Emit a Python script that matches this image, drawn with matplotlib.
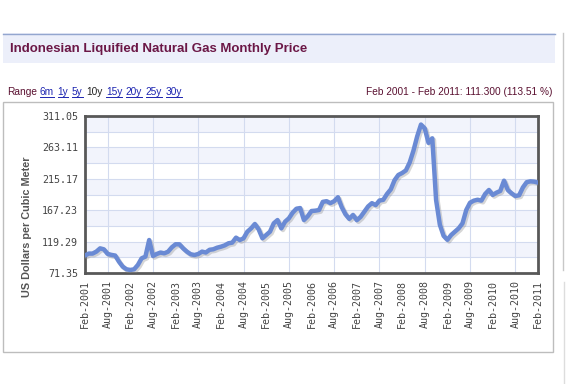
import numpy as np
import matplotlib
matplotlib.use("Agg")
import matplotlib.pyplot as plt
import matplotlib.patheffects as pe
from matplotlib.lines import Line2D
from matplotlib.patches import Rectangle

# monthly price, Feb 2001 .. Feb 2011 (USD per cubic meter)
price = [98.05, 101, 101, 104, 109, 107.5, 100.5, 99, 98, 88.6, 81, 77,
         76, 77, 83.6, 93.8, 96.3, 121.7, 97.3, 100.4, 102.6, 101.4, 103.9, 110.6,
         115.2, 115.2, 109, 103.9, 100, 98.8, 100.4, 104, 102.6, 106.8, 107.6, 110,
         111.5, 113.5, 116.7, 117.7, 125.3, 121.7, 124.3, 134.4, 139.5, 146.2, 138, 124.3,
         129.4, 134.4, 147.2, 152.2, 139.5, 149.7, 154.8, 163.4, 169.5, 170.5, 152.2, 158,
         166, 166.5, 167.5, 180, 181, 178, 181, 187, 172, 161, 154, 160,
         152, 157, 165, 173, 178, 175, 182, 183, 192, 199, 213, 221,
         224, 228, 240, 258, 280, 298, 292, 270, 277, 183, 145, 128,
         122, 129.4, 134.5, 139.6, 147.2, 167.6, 178.7, 181.8, 183.2, 181.8, 192, 198.1,
         190.5, 194, 196.6, 212.3, 198.1, 193, 188.9, 190, 202, 210, 211.3, 210.8,
         209.35]
months = np.arange(len(price))

x_labels = ["Feb-2001", "Aug-2001", "Feb-2002", "Aug-2002", "Feb-2003", "Aug-2003",
            "Feb-2004", "Aug-2004", "Feb-2005", "Aug-2005", "Feb-2006", "Aug-2006",
            "Feb-2007", "Aug-2007", "Feb-2008", "Aug-2008", "Feb-2009", "Aug-2009",
            "Feb-2010", "Aug-2010", "Feb-2011"]
y_ticks = [71.35, 119.29, 167.23, 215.17, 263.11, 311.05]

title = "Indonesian Liquified Natural Gas Monthly Price"
ranges = ["6m", "1y", "5y", "10y", "15y", "20y", "25y", "30y"]
summary = "Feb 2001 - Feb 2011: 111.300 (113.51 %)"

W, H = 567, 384
fig = plt.figure(figsize=(W / 100, H / 100), dpi=100)
fig.patch.set_facecolor("white")

def fx(px):
    return px / W

def fy(py):
    return 1 - py / H

# header band
fig.patches.append(Rectangle((fx(3), fy(63)), fx(552), 30 / H, transform=fig.transFigure,
                             facecolor="#eceffa", edgecolor="none"))
fig.lines.append(Line2D([fx(3), fx(555)], [fy(33.5), fy(33.5)], transform=fig.transFigure,
                        color="#93a6cf", lw=1))
fig.text(fx(10), fy(49), title, fontsize=9.5, fontweight="bold", color="#6b1746",
         family="Liberation Sans", va="center", ha="left")

# range row
fig.canvas.draw()
r = fig.canvas.get_renderer()
t = fig.text(fx(7), fy(92), "Range", fontsize=7.3, color="#5a1030",
             family="Liberation Sans", va="center")
xpos = t.get_window_extent(r).x1 + 3
for lab in ranges:
    col = "#222222" if lab == "10y" else "#1c24b0"
    tt = fig.text(xpos / W, fy(92), lab, fontsize=7.3, color=col,
                  family="Liberation Sans", va="center")
    bb = tt.get_window_extent(r)
    if lab != "10y":
        fig.lines.append(Line2D([bb.x0 / W, bb.x1 / W], [fy(97), fy(97)],
                                transform=fig.transFigure, color=col, lw=0.7))
    xpos = bb.x1 + 3.5
fig.text(fx(552), fy(92), summary, fontsize=7.3, color="#5a1030",
         family="Liberation Sans", va="center", ha="right")

# chart box and neighbouring edge
fig.patches.append(Rectangle((fx(3), fy(352)), fx(550), 250 / H, transform=fig.transFigure,
                             facecolor="none", edgecolor="#bdbdbd", lw=1))
fig.lines.append(Line2D([fx(563), fx(563)], [fy(33), fy(270)], transform=fig.transFigure,
                        color="#c8c8c8", lw=1))
fig.lines.append(Line2D([fx(564), fx(564)], [fy(282), fy(384)], transform=fig.transFigure,
                        color="#dddddd", lw=1))

ax = fig.add_axes([fx(85), fy(273), fx(453), 157 / H])
ymin, ymax = y_ticks[0], y_ticks[-1]
step = (y_ticks[1] - y_ticks[0]) / 2
for k in range(10):
    if k % 2 == 1:
        ax.axhspan(ymin + k * step, ymin + (k + 1) * step, color="#f2f4fc", lw=0, zorder=0)
for k in range(1, 10):
    ax.axhline(ymin + k * step, color="#d3dbef", lw=0.8, zorder=1)
for k in range(1, len(x_labels) - 1, 2):
    ax.axvline(k * 6, color="#d3dbef", lw=0.8, zorder=1)

ax.plot(months, price, color="#6a8ad4", lw=3.2, solid_capstyle="round",
        solid_joinstyle="round", zorder=3,
        path_effects=[pe.SimpleLineShadow(offset=(1.2, -1.2), shadow_color="#8a8a8a", alpha=0.35),
                      pe.Normal()])

ax.set_xlim(0, len(price) - 1)
ax.set_ylim(ymin, ymax)
ax.set_xticks(np.arange(0, len(price), 6))
ax.set_xticklabels(x_labels, rotation=90, family="DejaVu Sans Mono", fontsize=7.2, color="#444444")
ax.set_yticks(y_ticks)
ax.set_yticklabels(["%.2f" % v for v in y_ticks], family="DejaVu Sans Mono", fontsize=7.2,
                   color="#444444")
ax.tick_params(length=0, pad=5)
for s in ax.spines.values():
    s.set_color("#585858")
    s.set_linewidth(2)
ax.set_facecolor("white")

fig.text(fx(27), fy(227), "US Dollars per Cubic Meter", rotation=90, fontsize=7.8,
         fontweight="bold", color="#555555", family="Liberation Sans", va="center", ha="center")

fig.savefig("out.png", dpi=100)
